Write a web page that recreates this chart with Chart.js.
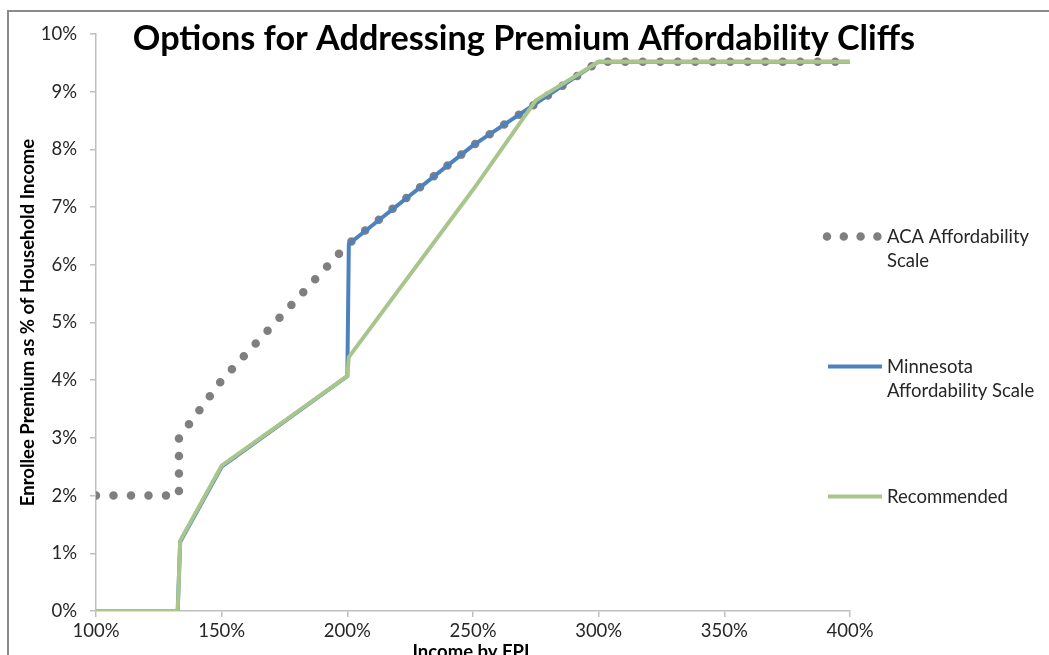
<!DOCTYPE html>
<html>
<head>
<title>Options for Addressing Premium Affordability Cliffs</title>
<script src="https://cdn.jsdelivr.net/npm/chart.js@4.4.0/dist/chart.umd.min.js"></script>
<style>
  html, body { margin: 0; padding: 0; background: #fff; }
  #chart-holder { width: 1049px; height: 655px; }
</style>
</head>
<body>
<div id="chart-holder"><canvas id="chart-area" width="1049" height="655"></canvas></div>
<script>
// income in % of FPL, premium in % of household income
var acaIncome  = [100, 133, 133, 150, 200, 250, 300, 400];
var acaPremium = [2.0, 2.0, 3.0, 4.0, 6.35, 8.07, 9.52, 9.52];

var mnIncome  = [100, 132.5, 133.5, 150, 200, 200.6, 250, 300, 400];
var mnPremium = [0, 0, 1.2, 2.5, 4.07, 6.36, 8.07, 9.52, 9.52];

var recIncome  = [100, 132.5, 133.5, 150, 200, 200.6, 250, 275, 300, 400];
var recPremium = [0, 0, 1.22, 2.52, 4.07, 4.4, 7.3, 8.85, 9.52, 9.52];

var xTicks = [100, 150, 200, 250, 300, 350, 400];
var yTicks = [0, 1, 2, 3, 4, 5, 6, 7, 8, 9, 10];

var seriesNames = ['ACA Affordability Scale', 'Minnesota Affordability Scale', 'Recommended'];

var colors = {
    grey: '#7f7f7f',
    blue: '#4f81bd',
    green: '#a8c68c',
    axis: '#bfbfbf',
    frame: '#8a8a8a',
    text: '#262626'
};

function points(xs, ys) {
    return xs.map(function(x, i) { return {x: x, y: ys[i]}; });
}

var fontFamily = 'Lato, "Open Sans", sans-serif';

// frame, title, axis titles and the legend are drawn here
var decorations = {
    id: 'decorations',
    beforeDraw: function(chart) {
        var ctx = chart.ctx;
        ctx.save();
        ctx.fillStyle = '#fff';
        ctx.fillRect(0, 0, chart.width, chart.height);
        ctx.strokeStyle = colors.frame;
        ctx.lineWidth = 2;
        ctx.beginPath();
        ctx.moveTo(8, chart.height);
        ctx.lineTo(8, 11);
        ctx.lineTo(chart.width, 11);
        ctx.stroke();
        ctx.restore();
    },
    afterDraw: function(chart) {
        var ctx = chart.ctx;
        var area = chart.chartArea;
        ctx.save();
        ctx.fillStyle = '#000';
        ctx.textAlign = 'center';
        ctx.textBaseline = 'alphabetic';

        // title, fitted to the width it has in the original
        var title = 'Options for Addressing Premium Affordability Cliffs';
        ctx.font = 'bold 32px ' + fontFamily;
        var size = 32 * 782 / ctx.measureText(title).width;
        ctx.font = 'bold ' + size.toFixed(1) + 'px ' + fontFamily;
        ctx.fillText(title, 524, 50);

        // axis titles
        ctx.font = 'bold 18.5px ' + fontFamily;
        ctx.fillText('Income by FPL', (area.left + area.right) / 2, 658);
        ctx.save();
        ctx.translate(34, (area.top + area.bottom) / 2);
        ctx.rotate(-Math.PI / 2);
        ctx.fillText('Enrollee Premium as % of Household Income', 0, 0);
        ctx.restore();

        // legend
        var rows = [
            {y: 236.5, lines: ['ACA Affordability', 'Scale']},
            {y: 366.5, lines: ['Minnesota', 'Affordability Scale']},
            {y: 496.5, lines: ['Recommended']}
        ];
        chart.data.datasets.forEach(function(ds, i) {
            var row = rows[i];
            ctx.save();
            ctx.strokeStyle = ds.borderColor;
            ctx.lineWidth = ds.borderWidth;
            ctx.lineCap = ds.borderCapStyle || 'butt';
            if (ds.borderDash) {
                ctx.setLineDash([0, 16.8]);
                ctx.beginPath();
                ctx.moveTo(827, row.y);
                ctx.lineTo(879, row.y);
            } else {
                ctx.beginPath();
                ctx.moveTo(828, row.y);
                ctx.lineTo(882, row.y);
            }
            ctx.stroke();
            ctx.restore();
            ctx.fillStyle = colors.text;
            ctx.textAlign = 'left';
            ctx.textBaseline = 'middle';
            ctx.font = '18.5px ' + fontFamily;
            row.lines.forEach(function(line, k) {
                ctx.fillText(line, 887, row.y + 1 + k * 23.5);
            });
        });
        ctx.restore();
    }
};

var config = {
    type: 'line',
    data: {
        datasets: [{
            label: seriesNames[0],
            data: points(acaIncome, acaPremium),
            borderColor: colors.grey,
            borderWidth: 8.5,
            borderDash: [0, 17.5],
            borderCapStyle: 'round',
            borderJoinStyle: 'round',
            pointRadius: 0,
            order: 3
        }, {
            label: seriesNames[1],
            data: points(mnIncome, mnPremium),
            borderColor: colors.blue,
            borderWidth: 4,
            borderJoinStyle: 'round',
            pointRadius: 0,
            order: 2
        }, {
            label: seriesNames[2],
            data: points(recIncome, recPremium),
            borderColor: colors.green,
            borderWidth: 4,
            borderJoinStyle: 'round',
            pointRadius: 0,
            order: 1
        }]
    },
    options: {
        responsive: false,
        animation: false,
        layout: {
            padding: {left: 0, top: 34, right: 199, bottom: 0}
        },
        plugins: {
            legend: {display: false},
            tooltip: {enabled: false}
        },
        scales: {
            x: {
                type: 'linear',
                min: 100,
                max: 400,
                afterFit: function(scale) { scale.height = 44; },
                afterBuildTicks: function(scale) {
                    scale.ticks = xTicks.map(function(v) { return {value: v}; });
                },
                grid: {display: true, drawOnChartArea: false, tickLength: 6, color: colors.axis, lineWidth: 1.5},
                border: {display: true, color: colors.axis, width: 1.5},
                ticks: {
                    padding: 3,
                    color: colors.text,
                    font: {family: fontFamily, size: 18.5},
                    callback: function(v) { return v + '%'; }
                }
            },
            y: {
                type: 'linear',
                min: 0,
                max: 10,
                afterFit: function(scale) { scale.width = 96; },
                afterBuildTicks: function(scale) {
                    scale.ticks = yTicks.map(function(v) { return {value: v}; });
                },
                grid: {display: true, drawOnChartArea: false, tickLength: 6, color: colors.axis, lineWidth: 1.5},
                border: {display: true, color: colors.axis, width: 1.5},
                ticks: {
                    padding: 13,
                    color: colors.text,
                    font: {family: fontFamily, size: 18.5},
                    callback: function(v) { return v + '%'; }
                }
            }
        }
    },
    plugins: [decorations]
};

window.onload = function() {
    var ctx = document.getElementById('chart-area').getContext('2d');
    window.myLine = new Chart(ctx, config);
};
</script>
</body>
</html>
